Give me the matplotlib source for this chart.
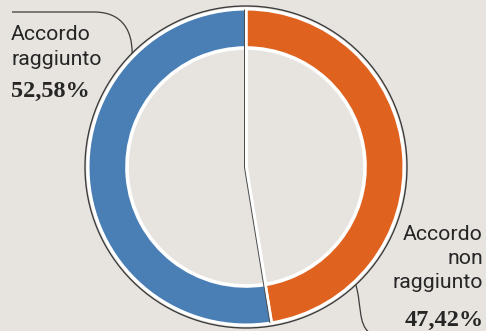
import matplotlib.pyplot as plt
import numpy as np
from matplotlib.patches import Circle, PathPatch
from matplotlib.path import Path

# data: orange slice first, drawn clockwise from 12 o'clock
shares = [47.42, 52.58]
share_labels = ["47,42%", "52,58%"]
name_lines = [["Accordo", "non", "raggiunto"], ["Accordo", "raggiunto"]]
colors = ["#e0621f", "#4a7fb6"]

BG = "#e7e4df"
INK = "#262626"
W, H = 486, 331


def py(y):
    # pixel-from-top -> data y (y up)
    return H - y


cx, cy = 246, py(167)
r_out, r_in = 158, 119

fig = plt.figure(figsize=(W / 100, H / 100), dpi=100, facecolor=BG)
ax = fig.add_axes([0, 0, 1, 1])
ax.set_facecolor(BG)

# thin dark outline just outside the ring
ax.add_patch(Circle((cx, cy), r_out + 3, fill=False, ec="#3c3c3c", lw=1.0, zorder=1))

ax.pie(shares, colors=colors, startangle=90, counterclock=False, center=(cx, cy),
       radius=r_out, frame=True,
       wedgeprops=dict(edgecolor="white", linewidth=2.2, zorder=2))
ax.pie(shares, colors=[BG, BG], startangle=90, counterclock=False, center=(cx, cy),
       radius=r_in, frame=True,
       wedgeprops=dict(edgecolor="white", linewidth=2.6, zorder=3))

# dark hairline beside each white split line
bounds = 90 - 360 * np.cumsum([0] + shares[:-1]) / 100
for a in np.deg2rad(bounds):
    ax.plot([cx - 1.6, cx - 1.6 + r_out * np.cos(a)], [cy, cy + r_out * np.sin(a)],
            color="#4a4a4a", lw=0.7, zorder=4, solid_capstyle="butt")

ax.set_xlim(0, W)
ax.set_ylim(0, H)
ax.set_aspect("equal")
ax.axis("off")

# connector lines
a1 = np.deg2rad(135)
e1 = (cx + (r_out + 3) * np.cos(a1), cy + (r_out + 3) * np.sin(a1))
p1 = Path([(12, py(12)), (94, py(12)), (120, py(12)), (e1[0], py(28)), e1],
          [Path.MOVETO, Path.LINETO, Path.CURVE4, Path.CURVE4, Path.CURVE4])
ax.add_patch(PathPatch(p1, fill=False, ec="#3c3c3c", lw=0.9, zorder=5))

a2 = np.deg2rad(-47)
e2 = (cx + (r_out + 3) * np.cos(a2), cy + (r_out + 3) * np.sin(a2))
p2 = Path([e2, (e2[0] + 6, py(305)), (e2[0] + 2, py(324)), (e2[0] + 14, py(333))],
          [Path.MOVETO, Path.CURVE4, Path.CURVE4, Path.CURVE4])
ax.add_patch(PathPatch(p2, fill=False, ec="#3c3c3c", lw=0.9, zorder=5))

name_font = dict(family=["Roboto", "DejaVu Sans"], fontsize=15.3, color=INK)
num_font = dict(family=["Liberation Serif", "DejaVu Serif"], fontsize=17.5,
                fontweight="bold", color=INK)

# left label (blue slice)
for i, line in enumerate(name_lines[1]):
    ax.text(11, py(40 + 25 * i), line, ha="left", va="baseline", **name_font)
ax.text(11, py(97), share_labels[1], ha="left", va="baseline", **num_font)

# right label (orange slice)
for i, line in enumerate(name_lines[0]):
    ax.text(483, py(240 + 24 * i), line, ha="right", va="baseline", **name_font)
ax.text(484, py(326), share_labels[0], ha="right", va="baseline", **num_font)

fig.savefig("out.png", dpi=100, facecolor=BG)
